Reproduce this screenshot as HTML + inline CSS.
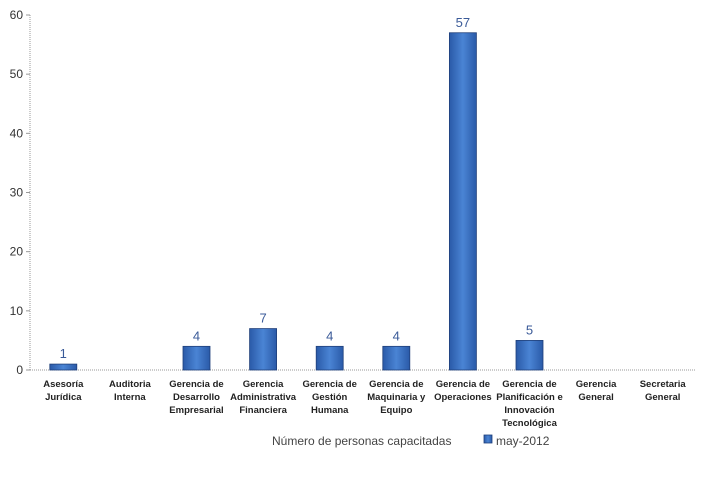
<!DOCTYPE html>
<html><head><meta charset="utf-8"><style>
body{margin:0;background:#fff;width:714px;height:476px;overflow:hidden;font-family:"Liberation Sans",sans-serif}
</style></head><body>
<svg width="714" height="476">
<defs>
<linearGradient id="g" x1="0" x2="1" y1="0" y2="0">
<stop offset="0" stop-color="#2a5aa8"/><stop offset="0.5" stop-color="#4a84d4"/><stop offset="1" stop-color="#2a5aa8"/>
</linearGradient>
</defs>
<g id="yaxis"></g>
<g id="bars"></g>
<g id="xlabels"></g>
<text x="272" y="445" font-size="12" fill="#444">Número de personas capacitadas</text>
<rect x="484" y="435" width="8" height="8" fill="url(#g)" stroke="#1f3f7a" stroke-width="0.8"/>
<text x="496" y="445" font-size="12" fill="#444">may-2012</text>
</svg>
<script>
const categories=[["Asesoría","Jurídica"],["Auditoria","Interna"],["Gerencia de","Desarrollo","Empresarial"],["Gerencia","Administrativa","Financiera"],["Gerencia de","Gestión","Humana"],["Gerencia de","Maquinaria y","Equipo"],["Gerencia de","Operaciones"],["Gerencia de","Planificación e","Innovación","Tecnológica"],["Gerencia","General"],["Secretaria","General"]];
const values=[1,0,4,7,4,4,57,5,0,0];
const yTicks=[0,10,20,30,40,50,60];
const NS="http://www.w3.org/2000/svg";
const x0=30,x1=696,y0=370,yTop=15,yMax=60;
const bw=(x1-x0)/categories.length;
const y=v=>y0-(v/yMax)*(y0-yTop);
const xc=i=>x0+bw*(i+0.5);
function mk(t,a,p){const e=document.createElementNS(NS,t);for(const k in a)e.setAttribute(k,a[k]);p.appendChild(e);return e;}
const ya=document.getElementById('yaxis');
const al=mk('line',{x1:x0,x2:x0,y1:yTop,y2:y0,stroke:'#999','stroke-dasharray':'1,1'},ya);


const xl=mk('line',{x1:x0,x2:x1,y1:y0,y2:y0,stroke:'#999','stroke-dasharray':'1,1'},ya);


yTicks.forEach(t=>{
 mk('line',{x1:x0-4,x2:x0,y1:y(t),y2:y(t),stroke:'#999'},ya);
 const tx=mk('text',{x:x0-7,y:y(t)+4,'text-anchor':'end','font-size':'12',fill:'#333'},ya);
 tx.textContent=t;
 
 
});
const bg=document.getElementById('bars'),lg=document.getElementById('xlabels');
values.forEach((v,i)=>{
 if(v>0){
  const r=mk('rect',{x:xc(i)-13.5,y:y(v),width:27,height:y0-y(v),fill:'url(#g)',stroke:'#1f3f7a','stroke-width':'0.8'},bg);
  
  
  const t=mk('text',{x:xc(i),y:y(v)-6,'text-anchor':'middle','font-size':'13',fill:'#3a5a98'},bg);
  t.textContent=v;
  
  
 }
 categories[i].forEach((s,j)=>{
  const t=mk('text',{x:xc(i),y:387+j*13,'text-anchor':'middle','font-size':'9.5','font-weight':'bold',fill:'#222'},lg);
  t.textContent=s;
  
  
 });
});
</script>
</body></html>
